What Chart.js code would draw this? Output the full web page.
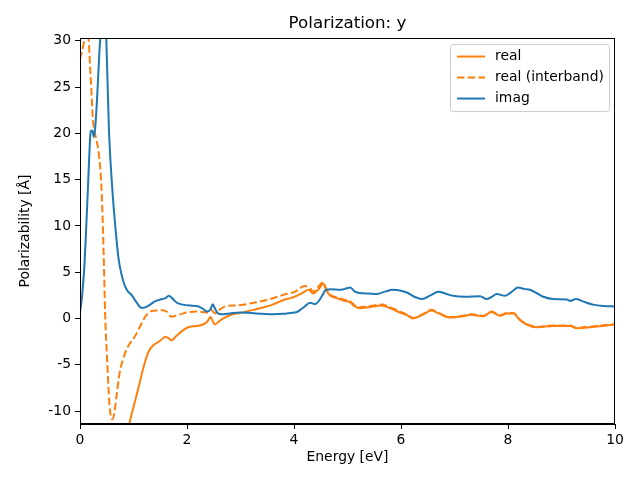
<!DOCTYPE html>
<html>
<head>
<meta charset="utf-8">
<script src="https://cdn.jsdelivr.net/npm/chart.js@4"></script>
<style>
  html, body { margin: 0; padding: 0; background: #fff; }
  #wrap { width: 640px; height: 480px; }
</style>
</head>
<body>
<div id="wrap"><canvas id="polChart" width="640" height="480"></canvas></div>
<script>
// values
const energyReal = [0.5, 0.7, 0.8, 0.93, 1.0, 1.1, 1.2, 1.28, 1.37, 1.45, 1.52, 1.59, 1.65, 1.71, 1.8, 1.93, 2.05, 2.18, 2.3, 2.38, 2.44, 2.48, 2.52, 2.6, 2.68, 2.8, 2.93, 3.0, 3.18, 3.36, 3.6, 3.8, 3.93, 4.05, 4.17, 4.27, 4.36, 4.45, 4.55, 4.6, 4.67, 4.8, 4.92, 5.05, 5.14, 5.23, 5.42, 5.64, 5.8, 5.98, 6.1, 6.23, 6.4, 6.57, 6.7, 6.92, 7.17, 7.3, 7.54, 7.69, 7.85, 7.98, 8.1, 8.22, 8.35, 8.54, 8.85, 9.16, 9.28, 9.53, 9.75, 10];
const real = [-40, -22, -16, -11.2, -9.6, -7.3, -5.0, -3.6, -2.9, -2.6, -2.3, -2.0, -2.1, -2.35, -1.9, -1.25, -0.9, -0.8, -0.65, -0.35, 0.15, -0.3, -0.65, -0.3, 0.0, 0.35, 0.55, 0.6, 0.85, 1.1, 1.5, 2.0, 2.2, 2.45, 2.8, 3.1, 2.7, 3.1, 3.75, 3.1, 2.5, 2.2, 1.95, 1.75, 1.3, 1.1, 1.25, 1.4, 1.1, 0.65, 0.4, 0.0, 0.4, 0.85, 0.55, 0.1, 0.25, 0.4, 0.25, 0.7, 0.3, 0.55, 0.55, -0.15, -0.65, -0.95, -0.8, -0.8, -1.05, -0.95, -0.8, -0.65];

const energyInter = [0, 0.05, 0.1, 0.13, 0.16, 0.19, 0.21, 0.24, 0.29, 0.35, 0.4, 0.43, 0.45, 0.47, 0.51, 0.55, 0.6, 0.64, 0.68, 0.74, 0.84, 0.93, 1.02, 1.12, 1.21, 1.3, 1.4, 1.53, 1.62, 1.71, 1.82, 1.93, 2.05, 2.18, 2.37, 2.46, 2.52, 2.62, 2.74, 2.9, 3.0, 3.2, 3.49, 3.8, 4.02, 4.2, 4.3, 4.36, 4.45, 4.54, 4.6, 4.67, 4.8, 4.92, 5.05, 5.14, 5.2, 5.42, 5.64, 5.8, 5.98, 6.1, 6.23, 6.4, 6.57, 6.7, 6.92, 7.17, 7.3, 7.54, 7.69, 7.85, 7.98, 8.1, 8.22, 8.35, 8.54, 8.85, 9.16, 9.28, 9.53, 9.75, 10];
const realInter = [28.0, 29.2, 30.5, 31.0, 30.3, 27.0, 25.0, 21.6, 19.7, 17.9, 14.3, 9.5, 5.2, 0.5, -4.8, -9.2, -10.9, -10.3, -8.5, -5.9, -3.8, -2.7, -2.0, -0.9, 0.1, 0.7, 0.85, 0.9, 0.75, 0.2, 0.35, 0.55, 0.7, 0.75, 0.65, 0.9, 0.55, 1.0, 1.35, 1.4, 1.45, 1.65, 2.0, 2.55, 2.9, 3.5, 3.25, 2.9, 3.4, 3.9, 3.25, 2.6, 2.3, 2.05, 1.85, 1.4, 1.2, 1.35, 1.5, 1.2, 0.75, 0.45, 0.05, 0.45, 0.95, 0.6, 0.15, 0.3, 0.45, 0.3, 0.75, 0.35, 0.6, 0.6, -0.1, -0.6, -0.9, -0.75, -0.75, -1.0, -0.9, -0.75, -0.6];

const energyImag = [0, 0.04, 0.08, 0.11, 0.15, 0.18, 0.2, 0.23, 0.26, 0.29, 0.33, 0.37, 0.41, 0.45, 0.49, 0.54, 0.6, 0.67, 0.72, 0.77, 0.84, 0.9, 0.97, 1.05, 1.15, 1.22, 1.3, 1.4, 1.5, 1.6, 1.66, 1.72, 1.81, 1.92, 2.06, 2.18, 2.27, 2.38, 2.44, 2.48, 2.52, 2.57, 2.65, 2.8, 3.0, 3.2, 3.4, 3.6, 3.8, 3.93, 4.05, 4.11, 4.2, 4.3, 4.39, 4.45, 4.52, 4.6, 4.7, 4.86, 4.95, 5.05, 5.14, 5.23, 5.4, 5.55, 5.7, 5.85, 6.0, 6.13, 6.25, 6.39, 6.55, 6.7, 6.85, 6.97, 7.2, 7.48, 7.6, 7.7, 7.79, 7.94, 8.05, 8.19, 8.3, 8.41, 8.55, 8.66, 8.85, 9.1, 9.16, 9.27, 9.4, 9.59, 9.8, 10];
const imag = [0.6, 2.5, 5.5, 9.0, 14.3, 18.5, 20.2, 20.3, 19.6, 21.0, 25.0, 29.5, 32.0, 34.0, 30.5, 20.5, 14.3, 9.3, 6.5, 4.9, 3.5, 2.9, 2.5, 1.8, 1.15, 1.2, 1.45, 1.85, 2.05, 2.2, 2.45, 2.2, 1.7, 1.5, 1.4, 1.35, 1.15, 0.75, 1.0, 1.55, 1.1, 0.6, 0.45, 0.55, 0.65, 0.6, 0.5, 0.45, 0.5, 0.6, 0.7, 0.9, 1.3, 1.7, 1.55, 1.8, 2.4, 3.1, 3.15, 3.1, 3.2, 3.35, 2.9, 2.75, 2.7, 2.65, 2.9, 3.1, 3.0, 2.75, 2.35, 2.1, 2.5, 2.9, 2.65, 2.45, 2.35, 2.4, 2.1, 2.35, 2.65, 2.45, 2.8, 3.35, 3.2, 3.1, 2.7, 2.35, 2.1, 2.05, 1.9, 2.1, 1.85, 1.5, 1.35, 1.3];

const xTicks = [0, 2, 4, 6, 8, 10];
const yTicks = [-10, -5, 0, 5, 10, 15, 20, 25, 30];

const ORANGE = "#ff7f0e";
const BLUE = "#1f77b4";
const FONT = "'DejaVu Sans', sans-serif";

function pts(xs, ys) {
    return xs.map((x, i) => ({ x: x, y: ys[i] }));
}

// top and right spines
const framePlugin = {
    id: "frame",
    afterDraw(chart) {
        const { ctx, chartArea: a } = chart;
        ctx.save();
        ctx.strokeStyle = "#000";
        ctx.lineWidth = 1;
        ctx.strokeRect(Math.round(a.left) + 0.5, Math.round(a.top) + 0.5,
            Math.round(a.right - a.left) - 1, Math.round(a.bottom - a.top) - 1);
        ctx.restore();
    }
};

// matplotlib-like legend in the upper right corner
const legendPlugin = {
    id: "mplLegend",
    afterDraw(chart) {
        const { ctx, chartArea: a } = chart;
        const sets = chart.data.datasets;
        const w = 159, h = 67, rowH = 21;
        const x0 = a.right - 6 - w, y0 = a.top + 6;
        ctx.save();
        ctx.fillStyle = "rgba(255,255,255,0.8)";
        ctx.strokeStyle = "#cccccc";
        ctx.lineWidth = 1;
        ctx.beginPath();
        ctx.roundRect(x0 + 0.5, y0 + 0.5, w, h, 3);
        ctx.fill();
        ctx.stroke();
        ctx.font = "13.9px " + FONT;
        ctx.textBaseline = "middle";
        sets.forEach((ds, i) => {
            const y = y0 + 12.5 + i * rowH;
            ctx.strokeStyle = ds.borderColor;
            ctx.lineWidth = 2;
            ctx.setLineDash(ds.borderDash || []);
            ctx.beginPath();
            ctx.moveTo(x0 + 7, y);
            ctx.lineTo(x0 + 35, y);
            ctx.stroke();
            ctx.setLineDash([]);
            ctx.fillStyle = "#000";
            ctx.fillText(ds.label, x0 + 45, y);
        });
        ctx.restore();
    }
};

new Chart(document.getElementById("polChart"), {
    type: "line",
    data: {
        datasets: [
            {
                label: "real",
                data: pts(energyReal, real),
                borderColor: ORANGE,
                borderWidth: 2,
                order: 2
            },
            {
                label: "real (interband)",
                data: pts(energyInter, realInter),
                borderColor: ORANGE,
                borderWidth: 2,
                borderDash: [7.5, 3.2],
                order: 1
            },
            {
                label: "imag",
                data: pts(energyImag, imag),
                borderColor: BLUE,
                borderWidth: 2,
                order: 0
            }
        ]
    },
    options: {
        responsive: false,
        animation: false,
        devicePixelRatio: 1,
        layout: { padding: { top: 0, right: 25, left: 0, bottom: 0 } },
        elements: {
            point: { radius: 0 },
            line: { cubicInterpolationMode: "monotone", fill: false }
        },
        plugins: {
            legend: { display: false },
            tooltip: { enabled: false },
            title: {
                display: true,
                fullSize: false,
                text: "Polarization: y",
                color: "#000",
                font: { family: FONT, size: 16.7, weight: "normal" },
                padding: { top: 14, bottom: 4 }
            }
        },
        scales: {
            x: {
                type: "linear",
                min: 0,
                max: 10,
                afterBuildTicks: (s) => { s.ticks = xTicks.map(v => ({ value: v })); },
                afterFit: (s) => { s.height = 56; },
                grid: { drawOnChartArea: false, drawTicks: true, tickLength: 5, color: "#000" },
                border: { display: true, color: "#000" },
                ticks: { color: "#000", padding: 3, maxRotation: 0, font: { family: FONT, size: 13.9 } },
                title: {
                    display: true,
                    text: "Energy [eV]",
                    color: "#000",
                    font: { family: FONT, size: 13.9 },
                    padding: { top: 0, bottom: 14 }
                }
            },
            y: {
                type: "linear",
                min: -11.4,
                max: 30.3,
                afterBuildTicks: (s) => { s.ticks = yTicks.map(v => ({ value: v })); },
                afterFit: (s) => { s.width = 80; },
                grid: { drawOnChartArea: false, drawTicks: true, tickLength: 5, color: "#000" },
                border: { display: true, color: "#000" },
                ticks: { color: "#000", padding: 4, font: { family: FONT, size: 13.9 } },
                title: {
                    display: true,
                    text: "Polarizability [Å]",
                    color: "#000",
                    font: { family: FONT, size: 13.9 },
                    padding: { top: 17, bottom: 0 }
                }
            }
        }
    },
    plugins: [framePlugin, legendPlugin]
});
</script>
</body>
</html>
